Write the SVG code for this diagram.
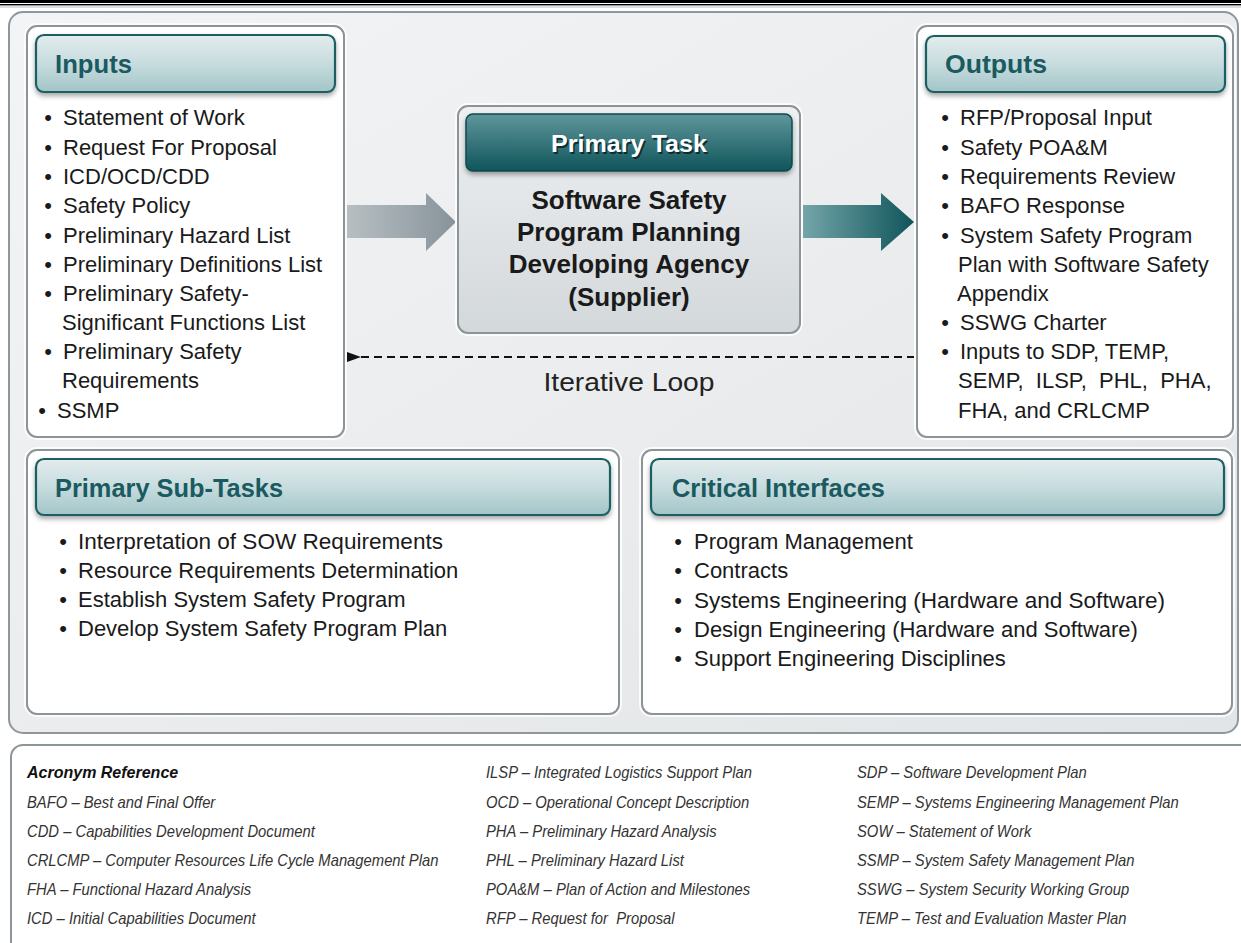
<svg xmlns="http://www.w3.org/2000/svg" width="1241" height="943" viewBox="0 0 1241 943">
<defs>
<linearGradient id="panelG" x1="0" y1="0" x2="1" y2="1">
<stop offset="0" stop-color="#f3f4f5"/>
<stop offset="1" stop-color="#e2e5e7"/>
</linearGradient>
<linearGradient id="hdrG" x1="0" y1="0" x2="0" y2="1">
<stop offset="0" stop-color="#e3eced"/>
<stop offset="0.5" stop-color="#c7dcde"/>
<stop offset="1" stop-color="#a2c5c8"/>
</linearGradient>
<linearGradient id="ptG" x1="0" y1="0" x2="0" y2="1">
<stop offset="0" stop-color="#5f969b"/>
<stop offset="1" stop-color="#0f555a"/>
</linearGradient>
<linearGradient id="ctrG" x1="0" y1="0" x2="0" y2="1">
<stop offset="0" stop-color="#eef0f2"/>
<stop offset="1" stop-color="#d3d8db"/>
</linearGradient>
<linearGradient id="inArrG" x1="0" y1="0" x2="1" y2="0">
<stop offset="0" stop-color="#b9c0c4"/>
<stop offset="1" stop-color="#87939a"/>
</linearGradient>
<linearGradient id="outArrG" x1="0" y1="0" x2="1" y2="0">
<stop offset="0" stop-color="#76a7ab"/>
<stop offset="1" stop-color="#0f555a"/>
</linearGradient>
<filter id="sh" x="-5%" y="-20%" width="110%" height="150%">
<feDropShadow dx="0" dy="3" stdDeviation="2.5" flood-color="#000" flood-opacity="0.35"/>
</filter>
<marker id="ah" markerWidth="14" markerHeight="10" refX="1" refY="5" orient="auto" markerUnits="userSpaceOnUse">
<path d="M14,0 L0,5 L14,10 Z" fill="#111"/>
</marker>
<style>
.box{fill:#fff;stroke:#8c9498;stroke-width:2}
.halo{fill:none;stroke:#fbfbfb;stroke-width:2}
.hdr{fill:url(#hdrG);stroke:#1e5f63;stroke-width:2.2;filter:url(#sh)}
.ht{font-family:"Liberation Sans",Arial,sans-serif;font-weight:bold;font-size:26px;fill:#1a5a60}
.it{font-family:"Liberation Sans",Arial,sans-serif;font-size:22px;fill:#1a1a1a}
.bt{font-family:"Liberation Sans",Arial,sans-serif;font-size:22px;fill:#1a1a1a;text-anchor:middle}
.ct{font-family:"Liberation Sans",Arial,sans-serif;font-weight:bold;font-size:26px;fill:#1a1a1a;text-anchor:middle}
.ac{font-family:"Liberation Sans",Arial,sans-serif;font-style:italic;font-size:16px;fill:#333}
</style>
</defs>

<rect x="0" y="0" width="1241" height="943" fill="#fff"/>
<rect x="0" y="0" width="1241" height="3" fill="#000"/>
<rect x="0" y="4" width="1241" height="1.4" fill="#000"/>
<rect x="0" y="6.5" width="1241" height="1" fill="#b8bcbf"/>

<rect x="9" y="12" width="1229" height="721" rx="14" fill="url(#panelG)" stroke="#8f979b" stroke-width="2"/>

<g id="connectors">
<path d="M344,205 L426,205 L426,193 L456,222 L426,251 L426,238 L344,238 Z" fill="url(#inArrG)"/>
<path d="M800,205 L881,205 L881,193 L914,222 L881,251 L881,238 L800,238 Z" fill="url(#outArrG)"/>
<line x1="915" y1="357" x2="360" y2="357" stroke="#111" stroke-width="2" stroke-dasharray="8,5" marker-end="url(#ah)"/>
<text x="629" y="391" text-anchor="middle" font-family="Liberation Sans, Arial, sans-serif" font-size="26" fill="#222" textLength="171" lengthAdjust="spacingAndGlyphs">Iterative Loop</text>
</g>

<g id="inputs">
<rect class="halo" x="25" y="24" width="321" height="415" rx="12"/>
<rect class="box" x="27" y="26" width="317" height="411" rx="10"/>
<rect class="hdr" x="36" y="35" width="299" height="57" rx="8"/>
<text class="ht" x="55" y="73" textLength="77" lengthAdjust="spacingAndGlyphs">Inputs</text>
<text class="bt" x="48" y="125">•</text><text class="it" x="63" y="125">Statement of Work</text>
<text class="bt" x="48" y="155">•</text><text class="it" x="63" y="155">Request For Proposal</text>
<text class="bt" x="48" y="184">•</text><text class="it" x="63" y="184">ICD/OCD/CDD</text>
<text class="bt" x="48" y="213">•</text><text class="it" x="63" y="213">Safety Policy</text>
<text class="bt" x="48" y="243">•</text><text class="it" x="63" y="243">Preliminary Hazard List</text>
<text class="bt" x="48" y="272">•</text><text class="it" x="63" y="272">Preliminary Definitions List</text>
<text class="bt" x="48" y="301">•</text><text class="it" x="63" y="301">Preliminary Safety-</text>
<text class="it" x="62" y="330">Significant Functions List</text>
<text class="bt" x="48" y="359">•</text><text class="it" x="63" y="359">Preliminary Safety</text>
<text class="it" x="62" y="388">Requirements</text>
<text class="bt" x="42" y="418">•</text><text class="it" x="57" y="418">SSMP</text>
</g>

<g id="primary-task">
<rect class="halo" x="456" y="104" width="346" height="231" rx="12"/>
<rect x="458" y="106" width="342" height="227" rx="10" fill="url(#ctrG)" stroke="#8c9498" stroke-width="2"/>
<rect x="466" y="114" width="326" height="57" rx="7" fill="url(#ptG)" stroke="#0d4a4f" stroke-width="1.5" filter="url(#sh)"/>
<text x="630.5" y="153.5" text-anchor="middle" font-family="Liberation Sans, Arial, sans-serif" font-weight="bold" font-size="24" fill="#0a2e31" textLength="156" lengthAdjust="spacingAndGlyphs">Primary Task</text>
<text x="629" y="152" text-anchor="middle" font-family="Liberation Sans, Arial, sans-serif" font-weight="bold" font-size="24" fill="#ffffff" textLength="156" lengthAdjust="spacingAndGlyphs">Primary Task</text>
<text class="ct" x="629" y="209">Software Safety</text>
<text class="ct" x="629" y="241">Program Planning</text>
<text class="ct" x="629" y="273">Developing Agency</text>
<text class="ct" x="629" y="306">(Supplier)</text>
</g>

<g id="outputs">
<rect class="halo" x="915" y="24" width="320" height="415" rx="12"/>
<rect class="box" x="917" y="26" width="316" height="411" rx="10"/>
<rect class="hdr" x="926" y="36" width="299" height="56" rx="8"/>
<text class="ht" x="945" y="73" textLength="102" lengthAdjust="spacingAndGlyphs">Outputs</text>
<text class="bt" x="945" y="125">•</text><text class="it" x="960" y="125">RFP/Proposal Input</text>
<text class="bt" x="945" y="155">•</text><text class="it" x="960" y="155">Safety POA&amp;M</text>
<text class="bt" x="945" y="184">•</text><text class="it" x="960" y="184">Requirements Review</text>
<text class="bt" x="945" y="213">•</text><text class="it" x="960" y="213">BAFO Response</text>
<text class="bt" x="945" y="243">•</text><text class="it" x="960" y="243">System Safety Program</text>
<text class="it" x="958" y="272">Plan with Software Safety</text>
<text class="it" x="957" y="301">Appendix</text>
<text class="bt" x="945" y="330">•</text><text class="it" x="960" y="330">SSWG Charter</text>
<text class="bt" x="945" y="359">•</text><text class="it" x="960" y="359">Inputs to SDP, TEMP,</text>
<text class="it" x="958" y="388" xml:space="preserve">SEMP,  ILSP,  PHL,  PHA,</text>
<text class="it" x="958" y="418">FHA, and CRLCMP</text>
</g>

<g id="sub-tasks">
<rect class="halo" x="25" y="448" width="596" height="268" rx="12"/>
<rect class="box" x="27" y="450" width="592" height="264" rx="10"/>
<rect class="hdr" x="36" y="459" width="574" height="56" rx="8"/>
<text class="ht" x="55" y="497" textLength="228" lengthAdjust="spacingAndGlyphs">Primary Sub-Tasks</text>
<text class="bt" x="63" y="549">•</text><text class="it" x="78" y="549" textLength="365" lengthAdjust="spacingAndGlyphs">Interpretation of SOW Requirements</text>
<text class="bt" x="63" y="578">•</text><text class="it" x="78" y="578">Resource Requirements Determination</text>
<text class="bt" x="63" y="607">•</text><text class="it" x="78" y="607">Establish System Safety Program</text>
<text class="bt" x="63" y="636">•</text><text class="it" x="78" y="636">Develop System Safety Program Plan</text>
</g>

<g id="critical-interfaces">
<rect class="halo" x="640" y="448" width="594" height="268" rx="12"/>
<rect class="box" x="642" y="450" width="590" height="264" rx="10"/>
<rect class="hdr" x="651" y="459" width="573" height="56" rx="8"/>
<text class="ht" x="672" y="497" textLength="213" lengthAdjust="spacingAndGlyphs">Critical Interfaces</text>
<text class="bt" x="678" y="549">•</text><text class="it" x="694" y="549">Program Management</text>
<text class="bt" x="678" y="578">•</text><text class="it" x="694" y="578">Contracts</text>
<text class="bt" x="678" y="608">•</text><text class="it" x="694" y="608" textLength="471" lengthAdjust="spacingAndGlyphs">Systems Engineering (Hardware and Software)</text>
<text class="bt" x="678" y="637">•</text><text class="it" x="694" y="637">Design Engineering (Hardware and Software)</text>
<text class="bt" x="678" y="666">•</text><text class="it" x="694" y="666">Support Engineering Disciplines</text>
</g>

<g id="acronyms">
<rect x="11" y="745" width="1245" height="215" rx="12" fill="#fff" stroke="#8c9599" stroke-width="2"/>
<text x="27" y="778" font-family="Liberation Sans, Arial, sans-serif" font-style="italic" font-weight="bold" font-size="16" fill="#111">Acronym Reference</text>
<g transform="translate(27,0) scale(0.925,1)">
<text class="ac" x="0" y="808">BAFO – Best and Final Offer</text>
<text class="ac" x="0" y="837">CDD – Capabilities Development Document</text>
<text class="ac" x="0" y="866">CRLCMP – Computer Resources Life Cycle Management Plan</text>
<text class="ac" x="0" y="895">FHA – Functional Hazard Analysis</text>
<text class="ac" x="0" y="924">ICD – Initial Capabilities Document</text>
</g>
<g transform="translate(486,0) scale(0.925,1)">
<text class="ac" x="0" y="778">ILSP – Integrated Logistics Support Plan</text>
<text class="ac" x="0" y="808">OCD – Operational Concept Description</text>
<text class="ac" x="0" y="837">PHA – Preliminary Hazard Analysis</text>
<text class="ac" x="0" y="866">PHL – Preliminary Hazard List</text>
<text class="ac" x="0" y="895">POA&amp;M – Plan of Action and Milestones</text>
<text class="ac" x="0" y="924" xml:space="preserve">RFP – Request for  Proposal</text>
</g>
<g transform="translate(857,0) scale(0.925,1)">
<text class="ac" x="0" y="778">SDP – Software Development Plan</text>
<text class="ac" x="0" y="808">SEMP – Systems Engineering Management Plan</text>
<text class="ac" x="0" y="837">SOW – Statement of Work</text>
<text class="ac" x="0" y="866">SSMP – System Safety Management Plan</text>
<text class="ac" x="0" y="895">SSWG – System Security Working Group</text>
<text class="ac" x="0" y="924">TEMP – Test and Evaluation Master Plan</text>
</g>
</g>
</svg>
